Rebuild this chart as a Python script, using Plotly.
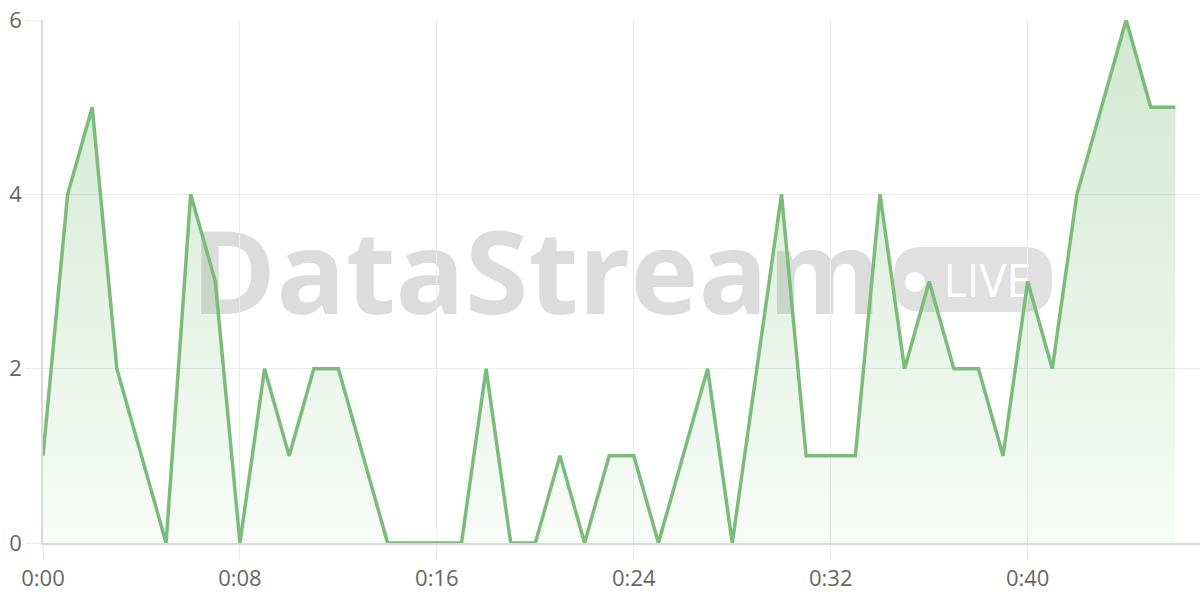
import plotly.graph_objects as go

# ---- data ----
seconds = list(range(47))
values = [1, 4, 5, 2, 1, 0, 4, 3, 0, 2, 1, 2, 2, 1, 0, 0, 0, 0, 2, 0,
          0, 1, 0, 1, 1, 0, 1, 2, 0, 2, 4, 1, 1, 1, 4, 2, 3, 2, 2, 1,
          3, 2, 4, 5, 6, 5, 5]
x_tick_vals = [0, 8, 16, 24, 32, 40]
x_tick_text = ["0:00", "0:08", "0:16", "0:24", "0:32", "0:40"]
y_tick_vals = [0, 2, 4, 6]

watermark_text = "DataStream"
badge_text = "LIVE"

# ---- figure ----
W, H = 1200, 600
ml, mr, mt, mb = 43, 0, 20, 57
xr = [0, 47]
yr = [0, 6]
pw = W - ml - mr
ph = H - mt - mb


def px2x(px):
    return xr[0] + (px - ml) / pw * (xr[1] - xr[0])


def py2y(py):
    return yr[0] + (H - mb - py) / ph * (yr[1] - yr[0])


green = "rgb(124,188,122)"

fig = go.Figure()
fig.add_trace(go.Scatter(
    x=seconds, y=values, mode="lines",
    line=dict(color=green, width=3.5),
    fill="tozeroy",
    fillgradient=dict(type="vertical",
                      colorscale=[[0, "rgba(124,188,122,0.05)"],
                                  [1, "rgba(124,188,122,0.35)"]]),
    hoverinfo="skip",
))

shapes = []
# watermark text
shapes.append(dict(
    type="rect", layer="below", xref="x", yref="y",
    x0=px2x(186), x1=px2x(886), y0=py2y(326), y1=py2y(228),
    line=dict(width=0), fillcolor="rgba(0,0,0,0)",
    label=dict(text=watermark_text, textposition="middle center",
               font=dict(family="Open Sans", size=115, color="#dcdcdc", weight="bold")),
))
# pill
x0, x1 = px2x(894), px2x(1052)
y0, y1 = py2y(312), py2y(247)
rxp = 28
rx = rxp / pw * (xr[1] - xr[0])
ry = rxp / ph * (yr[1] - yr[0])
path = (f"M {x0+rx},{y0} L {x1-rx},{y0} Q {x1},{y0} {x1},{y0+ry} "
        f"L {x1},{y1-ry} Q {x1},{y1} {x1-rx},{y1} L {x0+rx},{y1} "
        f"Q {x0},{y1} {x0},{y1-ry} L {x0},{y0+ry} Q {x0},{y0} {x0+rx},{y0} Z")
shapes.append(dict(type="path", path=path, layer="below", xref="x", yref="y",
                   fillcolor="#e0e0e0", line=dict(width=0)))
# dot
shapes.append(dict(type="circle", layer="below", xref="x", yref="y",
                   x0=px2x(905), x1=px2x(925), y0=py2y(292), y1=py2y(272),
                   fillcolor="white", line=dict(width=0)))
# LIVE label
shapes.append(dict(
    type="rect", layer="below", xref="x", yref="y",
    x0=px2x(930), x1=px2x(1045), y0=py2y(312), y1=py2y(252),
    line=dict(width=0), fillcolor="rgba(0,0,0,0)",
    label=dict(text=badge_text, textposition="middle center",
               font=dict(family="Open Sans", size=45, color="white")),
))

fig.update_layout(
    width=W, height=H,
    margin=dict(l=ml, r=mr, t=mt, b=mb, pad=0, autoexpand=False),
    paper_bgcolor="white", plot_bgcolor="white",
    showlegend=False,
    shapes=shapes,
    font=dict(family="Open Sans", color="#666666", size=22),
)
fig.update_xaxes(
    range=xr, tickvals=x_tick_vals, ticktext=x_tick_text,
    showgrid=True, gridcolor="#ebebeb", gridwidth=1,
    ticks="outside", ticklen=15, tickcolor="#ebebeb", tickwidth=1,
    showline=True, linecolor="#d9d9d9", linewidth=1.5,
    zeroline=False, fixedrange=True, automargin=False,
)
fig.update_yaxes(
    range=yr, tickvals=y_tick_vals,
    showgrid=True, gridcolor="#ebebeb", gridwidth=1,
    ticks="outside", ticklen=15, tickcolor="#ebebeb", tickwidth=1,
    showline=True, linecolor="#d9d9d9", linewidth=1.5,
    zeroline=False, fixedrange=True, automargin=False,
)

fig.write_html("out.html", config={"displayModeBar": False},
               post_script="document.body.style.margin='0';document.body.style.overflow='hidden';")
